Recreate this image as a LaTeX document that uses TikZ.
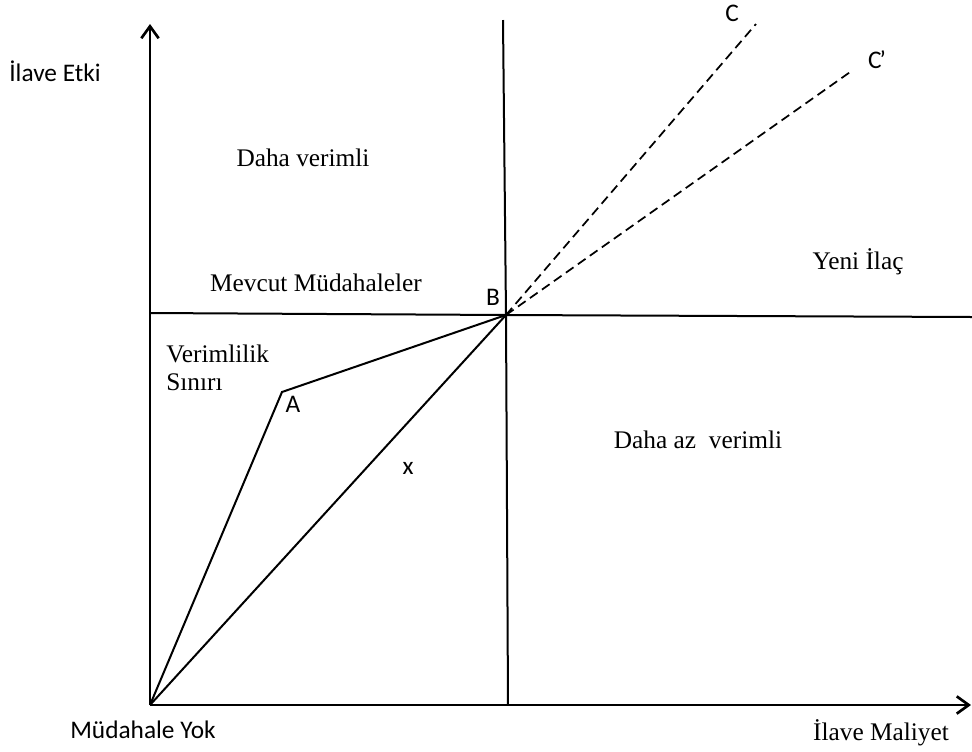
\documentclass[tikz,border=0pt]{standalone}
\usepackage{fontspec}
\setmainfont{Liberation Serif}
\newfontfamily\calibri{Carlito}
\usetikzlibrary{arrows.meta}

\begin{document}
\begin{tikzpicture}[x=0.75pt,y=-0.75pt,>={Straight Barb[length=9pt,width=13pt,line width=2pt]},
  line width=1.5pt,
  serlab/.style={font=\fontsize{19}{21}\selectfont},
  sanlab/.style={font=\calibri\fontsize{19}{21}\selectfont},
  every node/.style={inner sep=1pt}]
  \useasboundingbox (0,0) rectangle (972,751);
  % corner points of the frontier
  \coordinate (O) at (150,705);
  \coordinate (A) at (282,392);
  \coordinate (B) at (506,315);
  \coordinate (Ctop) at (756,24);
  \coordinate (Cpr) at (853,70);
  % axes
  \draw[->] (O) -- (150,24);
  \draw[->] (O) -- (971,705);
  % the two lines through B
  \draw (503,20) -- (B) -- (508,705);
  \draw (150,313) -- (B) -- (972,317);
  % frontier and diagonal
  \draw (O) -- (A) -- (B);
  \draw (O) -- (B);
  % threshold rays
  \draw[line width=1.3pt,dash pattern=on 7pt off 4pt] (B) -- (Ctop);
  \draw[line width=1.3pt,dash pattern=on 7pt off 4pt] (B) -- (Cpr);
  % labels
  \node[sanlab] (ety) at (55,71) {İlave Etki};
  \node[serlab] (dv) at (303,158) {Daha verimli};
  \node[serlab] (mm) at (316,283) {Mevcut Müdahaleler};
  \node[sanlab] (lb) at (493,297) {B};
  \node[serlab] (yi) at (858,262) {Yeni İlaç};
  \node[serlab,anchor=west,align=left] (vs) at (164,368) {Verimlilik\\Sınırı};
  \node[sanlab] (la) at (293,404) {A};
  \node[serlab] (dav) at (698,440) {Daha az\ \ verimli};
  \node[sanlab] (lx) at (408,468) {x};
  \node[sanlab] (my) at (143,730) {Müdahale Yok};
  \node[serlab] (im) at (881,733) {İlave Maliyet};
  \node[sanlab] (lc) at (732,13) {C};
  \node[sanlab] (lcp) at (877,60) {C\kern-1.5pt’};
\end{tikzpicture}
\end{document}
